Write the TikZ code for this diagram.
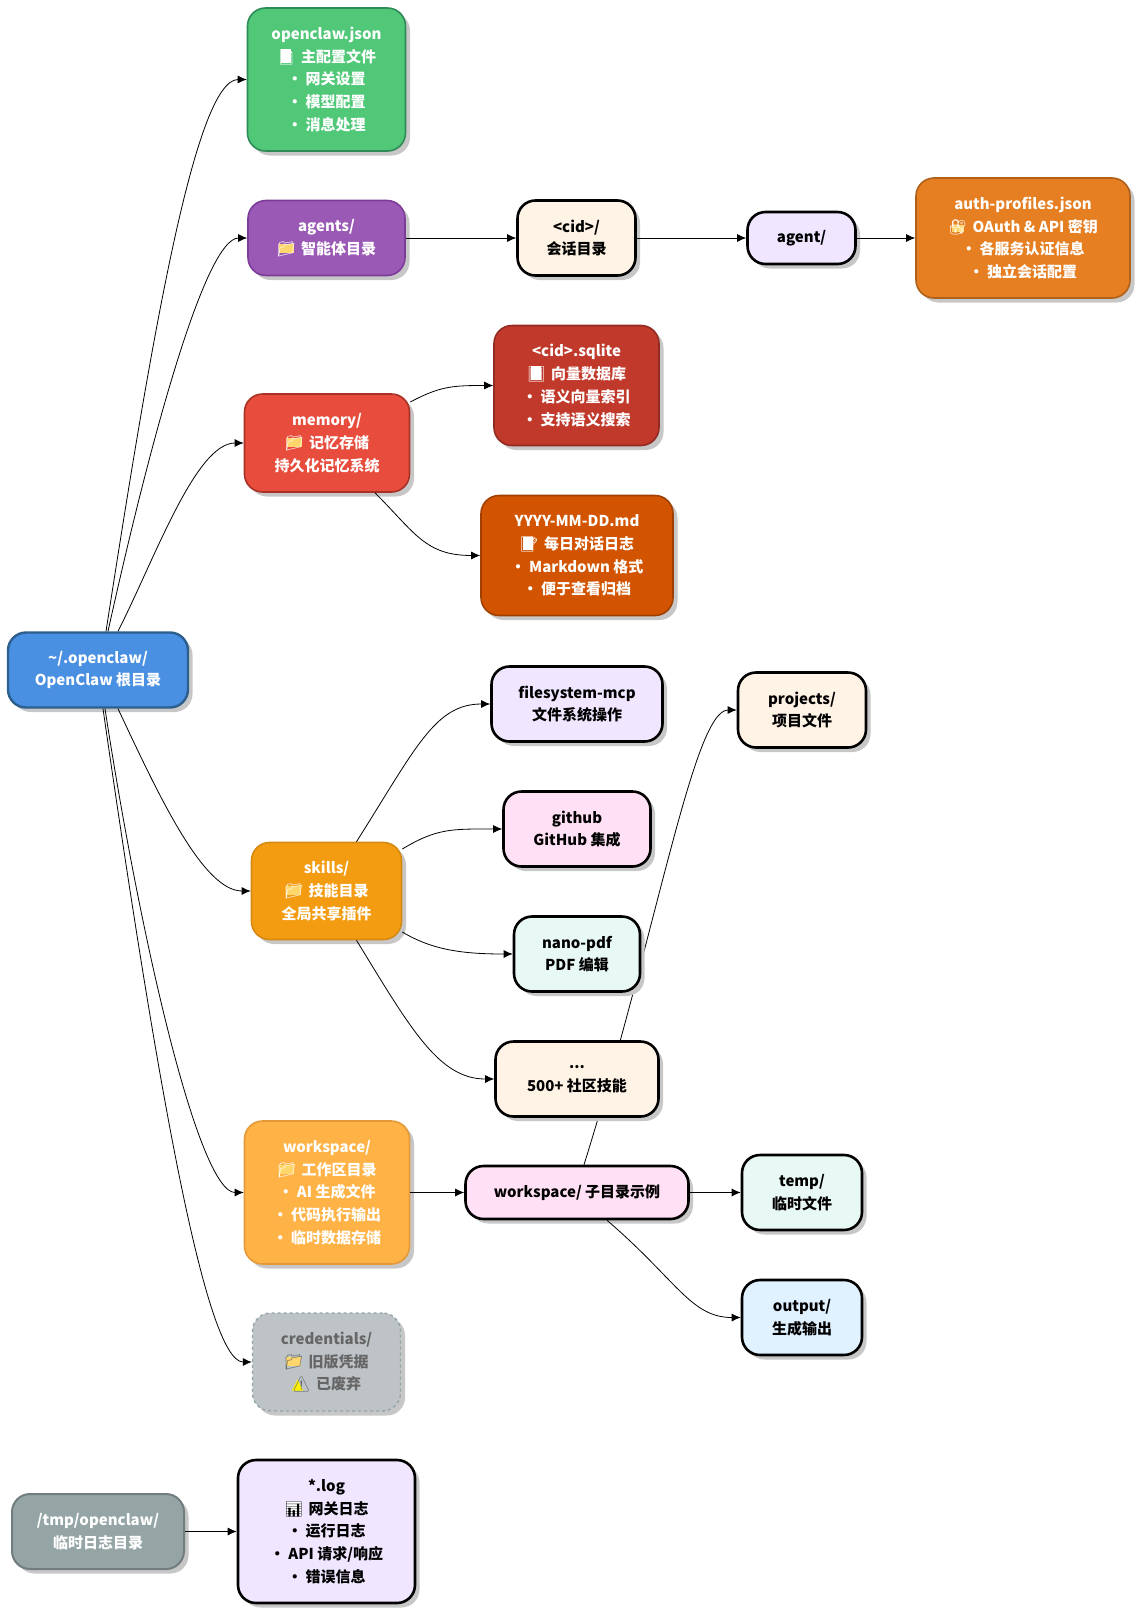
\documentclass[tikz,border=0pt]{standalone}
\usepackage{fontspec}
\setmainfont{Noto Sans CJK SC}
\newfontfamily\emojifont{Noto Emoji}
\newfontfamily\symfont{DejaVu Sans}
\usetikzlibrary{arrows.meta, positioning, shadows, backgrounds}
\definecolor{rootblue}{HTML}{4A90E2}
\definecolor{rootline}{HTML}{2C5F8D}
\definecolor{configgreen}{HTML}{50C878}
\definecolor{configline}{HTML}{2E8B57}
\definecolor{agentpurple}{HTML}{9B59B6}
\definecolor{agentline}{HTML}{7D3C98}
\definecolor{memred}{HTML}{E74C3C}
\definecolor{memline}{HTML}{A93226}
\definecolor{sqlred}{HTML}{C0392B}
\definecolor{sqlline}{HTML}{922B21}
\definecolor{mdorange}{HTML}{D35400}
\definecolor{mdline}{HTML}{A04000}
\definecolor{authorange}{HTML}{E67E22}
\definecolor{authline}{HTML}{AF601A}
\definecolor{skillyellow}{HTML}{F39C12}
\definecolor{skillline}{HTML}{D68910}
\definecolor{workorange}{HTML}{FFB347}
\definecolor{workline}{HTML}{E59A3A}
\definecolor{credgray}{HTML}{BDC3C7}
\definecolor{credline}{HTML}{95A5A6}
\definecolor{tmpgray}{HTML}{95A5A6}
\definecolor{tmpline}{HTML}{717D7E}
\definecolor{lightcream}{HTML}{FFF3E6}
\definecolor{lightlilac}{HTML}{F0E6FF}
\definecolor{lightpink}{HTML}{FFE0F5}
\definecolor{lightmint}{HTML}{E8F8F5}
\definecolor{lightsky}{HTML}{E0F2FF}
\definecolor{iconyellow}{HTML}{FFD66B}
\newcommand{\docicon}{\rlap{\hspace{.3em}\textcolor{white}{\rule[-.05em]{.65em}{.95em}}}{\emojifont 📄}\hspace{.12em}}
\newcommand{\foldericon}{\rlap{\hspace{.14em}\textcolor{iconyellow}{\rule[.08em]{.98em}{.62em}}}{\emojifont 📁}\hspace{.12em}}
\newcommand{\dbicon}{\rlap{\hspace{.3em}\textcolor{white}{\rule[-.05em]{.65em}{.95em}}}{\emojifont 🗄}\hspace{.12em}}
\newcommand{\memoicon}{\rlap{\hspace{.2em}\textcolor{white}{\rule[-.03em]{.7em}{.88em}}}{\emojifont 📝}\hspace{.12em}}
\newcommand{\lockicon}{\rlap{\hspace{.25em}\textcolor{iconyellow}{\rule[0em]{.78em}{.45em}}}{\emojifont 🔐}\hspace{.12em}}
\newcommand{\warnicon}{\rlap{\textcolor{yellow}{\symfont ▲}}{\emojifont ⚠}\hspace{.12em}}
\newcommand{\charticon}{\rlap{\hspace{.15em}\textcolor{white}{\rule[.02em]{.95em}{.85em}}}{\emojifont 📊}\hspace{.12em}}
\tikzset{
  boxbase/.style={rounded corners=18pt, align=center, inner sep=0pt,
    font=\fontsize{15}{22.8}\selectfont\bfseries,
    drop shadow={shadow xshift=4.5pt, shadow yshift=-4.5pt, fill=black!22, opacity=1}},
  size/.style 2 args={minimum width=#1pt, minimum height=#2pt},
  colorbox/.style 2 args={boxbase, fill=#1, draw=#2, line width=1.6pt, text=white},
  plainbox/.style={boxbase, fill=#1, draw=black, line width=2.6pt, text=black},
  conn/.style={line width=.8pt, -{Latex[length=9pt,width=8pt]}},
}
\begin{document}
\begin{tikzpicture}[x=1pt, y=-1pt]
\useasboundingbox (0,0) rectangle (1137,1611);
% main tree
\node[colorbox={rootblue}{rootline}, line width=2.4pt, size={180}{75}] (root) at (98,670) {\textasciitilde/.openclaw/\\OpenClaw 根目录};
\node[colorbox={configgreen}{configline}, size={158}{143}] (config) at (326.5,79.5) {openclaw.json\\\docicon\ 主配置文件\\• 网关设置\\• 模型配置\\• 消息处理};
\node[colorbox={agentpurple}{agentline}, size={157}{75}] (agents) at (326.5,238) {agents/\\\foldericon\ 智能体目录};
\node[plainbox=lightcream, size={118}{75}] (cid) at (576.5,238) {<cid>/\\会话目录};
\node[plainbox=lightlilac, size={108}{52}] (agent) at (801.5,238) {agent/};
\node[colorbox={authorange}{authline}, size={214}{120}] (auth) at (1023,238) {auth-profiles.json\\\lockicon\ OAuth \& API 密钥\\• 各服务认证信息\\• 独立会话配置};
\node[colorbox={memred}{memline}, size={165}{98}] (memory) at (327,443) {memory/\\\foldericon\ 记忆存储\\持久化记忆系统};
\node[colorbox={sqlred}{sqlline}, size={165}{120}] (sqlite) at (576.5,385.5) {<cid>.sqlite\\\dbicon\ 向量数据库\\• 语义向量索引\\• 支持语义搜索};
\node[colorbox={mdorange}{mdline}, size={192}{120}] (daily) at (577,555.5) {YYYY-MM-DD.md\\\memoicon\ 每日对话日志\\• Markdown 格式\\• 便于查看归档};
\node[colorbox={skillyellow}{skillline}, size={150}{97}] (skills) at (326.5,891) {skills/\\\foldericon\ 技能目录\\全局共享插件};
\node[plainbox=lightlilac, size={171}{75}] (fsmcp) at (577,704) {filesystem-mcp\\文件系统操作};
\node[plainbox=lightpink, size={147}{75}] (github) at (577,829) {github\\GitHub 集成};
\node[plainbox=lightmint, size={126}{75}] (nanopdf) at (577,954) {nano-pdf\\PDF 编辑};
\node[plainbox=lightcream, size={163}{75}] (more) at (577,1079) {...\\500+ 社区技能};
\node[colorbox={workorange}{workline}, size={165}{143}] (workspace) at (327,1192.5) {workspace/\\\foldericon\ 工作区目录\\• AI 生成文件\\• 代码执行输出\\• 临时数据存储};
\node[plainbox=lightpink, size={223}{53}] (subdirs) at (577,1192.5) {workspace/ 子目录示例};
\node[plainbox=lightcream, size={128}{75}] (projects) at (802,710) {projects/\\项目文件};
\node[plainbox=lightmint, size={120}{75}] (temp) at (802,1192.5) {temp/\\临时文件};
\node[plainbox=lightsky, size={120}{75}] (output) at (802,1317.5) {output/\\生成输出};
\node[boxbase, fill=credgray, draw=credline, dashed, line width=1.4pt, text=black!60, size={148}{98}] (cred) at (326.5,1362) {credentials/\\\foldericon\ 旧版凭据\\\warnicon\ 已废弃};
% log tree
\node[colorbox={tmpgray}{tmpline}, line width=2pt, size={172}{75}] (tmplog) at (98,1531.5) {/tmp/openclaw/\\临时日志目录};
\node[plainbox=lightlilac, size={177}{143}] (logs) at (326.5,1531.5) {*.log\\\charticon\ 网关日志\\• 运行日志\\• API 请求/响应\\• 错误信息};
\begin{scope}[on background layer]
\draw[conn] ([xshift=7pt]subdirs.north) .. controls +(74,-237) and +(-43,0) .. (projects.west);
\end{scope}
\draw[conn] ([xshift=8pt]root.north) .. controls +(44,-283) and +(-52,0) .. (config.west);
\draw[conn] ([xshift=10pt]root.north) .. controls +(42,-190) and +(-42,0) .. (agents.west);
\draw[conn] ([xshift=20pt]root.north) .. controls +(37,-73) and +(-48,0) .. (memory.west);
\draw[conn] ([xshift=20pt]root.south) .. controls +(40,85) and +(-48,0) .. (skills.west);
\draw[conn] ([xshift=7pt]root.south) .. controls +(37,241) and +(-44,0) .. (workspace.west);
\draw[conn] ([xshift=5pt]root.south) .. controls +(52,361) and +(-47,0) .. (cred.west);
\draw[conn] (agents) -- (cid);
\draw[conn] (cid) -- (agent);
\draw[conn] (agent) -- (auth);
\draw[conn] ([yshift=41pt]memory.east) .. controls +(30,-16) and +(-40,0) .. (sqlite.west);
\draw[conn] ([xshift=48pt]memory.south) .. controls +(40,40) and +(-55,0) .. (daily.west);
\draw[conn] ([xshift=30pt]skills.north) .. controls +(60,-95) and +(-55,0) .. (fsmcp.west);
\draw[conn] ([yshift=42pt]skills.east) .. controls +(35,-21) and +(-50,0) .. (github.west);
\draw[conn] ([yshift=-41pt]skills.east) .. controls +(30,18) and +(-50,0) .. (nanopdf.west);
\draw[conn] ([xshift=30pt]skills.south) .. controls +(55,90) and +(-55,0) .. (more.west);
\draw[conn] (workspace) -- (subdirs);
\draw[conn] (subdirs) -- (temp);
\draw[conn] ([xshift=30pt]subdirs.south) .. controls +(70,60) and +(-50,0) .. (output.west);
\draw[conn] (tmplog) -- (logs);
\end{tikzpicture}
\end{document}
